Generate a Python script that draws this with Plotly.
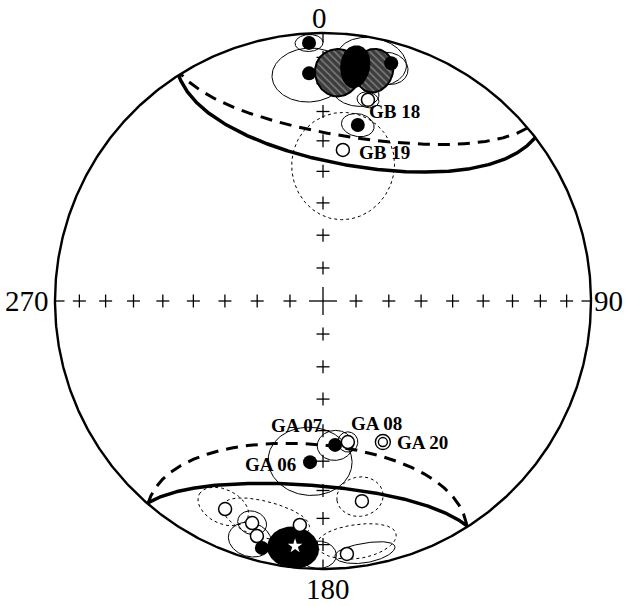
import numpy as np
import plotly.graph_objects as go

# ---- data (declination, inclination in degrees; negative inclination = upper hemisphere) ----
filled_dec = [356.9, 356.5, 16.0, 11.2, 175.2, 184.6, 193.9]
filled_inc = [4.0, 16.0, 8.5, 33.5, 45.2, 39.5, 5.7]

open_dec = [12.6, 7.5, 170.0, 169.0, 205.2, 197.7, 195.7, 185.9, 174.6]
open_inc = [-24.1, -42.6, -45.6, -24.9, -15.3, -14.1, -9.8, -17.1, -5.8]

double_dec = [157.0]
double_inc = [-42.3]

mean_dec = [186.5]
mean_inc = [8.8]

# confidence ovals: dec, inc, tangential semi-angle, radial semi-angle
oval_solid_dec = [356.9, 356.5, 15.8, 11.5, 9.0, 12.6, 11.2, 175.2, 184.6, 170.0, 197.0, 197.7, 181.1, 170.5]
oval_solid_inc = [4.0, 16.3, 10.6, 9.5, 22.1, 24.1, 33.5, 45.0, 39.5, 45.6, 7.5, 14.1, 5.8, 5.2]
oval_solid_at = [3.1, 9.0, 4.5, 8.1, 5.8, 2.8, 4.4, 5.0, 11.5, 2.8, 5.0, 3.5, 4.1, 6.8]
oval_solid_ar = [3.5, 10.2, 6.2, 9.5, 5.1, 2.8, 3.9, 4.9, 11.4, 3.3, 6.8, 4.5, 5.6, 4.0]

oval_dot_dec = [8.4, 169.3, 205.9, 172.0, 194.8]
oval_dot_inc = [47.3, 26.5, 15.7, 10.1, 16.6]
oval_dot_at = [14.5, 6.0, 6.5, 9.3, 10.9]
oval_dot_ar = [17.5, 7.0, 6.45, 6.7, 6.8]

hatch_dec = [3.7, 12.45]
hatch_inc = [15.5, 12.8]
hatch_at = [5.5, 4.5]
hatch_ar = [9.0, 8.5]

core_dec = [7.8, 186.9]
core_inc = [12.6, 7.9]
core_at = [3.3, 5.7]
core_ar = [8.0, 8.0]

# small circles: centre dec, centre inc, radius
arc_solid_dec = [9.9, 184.15]
arc_solid_inc = [4.6, -5.5]
arc_solid_rad = [42.7, 37.2]
arc_dash_dec = [8.85, 184.15]
arc_dash_inc = [-3.0, 8.1]
arc_dash_rad = [41.0, 37.4]

label_text = ["GB 18", "GB 19", "GA 07", "GA 08", "GA 20", "GA 06"]
label_dec = [20.6, 22.7, 191.8, 156.3, 144.9, 197.7]
label_inc = [25.6, 39.9, 50.9, 48.5, 35.9, 36.3]

cardinal_text = ["0", "90", "180", "270"]
cardinal_dec = [0, 90, 180, 270]
grid_inc = [80, 70, 60, 50, 40, 30, 20, 10]


def proj(dec, inc):
    dec = np.radians(np.asarray(dec, float))
    inc = np.abs(np.asarray(inc, float))
    rho = np.sqrt(2) * np.sin(np.radians(90 - inc) / 2)
    return rho * np.sin(dec), rho * np.cos(dec)


def unit(dec, inc):
    D, I = np.radians(dec), np.radians(abs(inc))
    return np.array([np.cos(I) * np.cos(D), np.cos(I) * np.sin(D), np.sin(I)])


def vec_to_net(p):
    d = np.degrees(np.arctan2(p[1], p[0]))
    i = np.degrees(np.arcsin(np.clip(p[2], 0, 1)))  # parts above the horizon are pinned to the primitive
    return proj(d, i)


def oval(dec, inc, at, ar, n=180):
    c = unit(dec, inc)
    z = np.array([0, 0, 1.0])
    u = z - c * np.dot(z, c)
    u /= np.linalg.norm(u)          # towards steeper inclination
    v = np.cross(u, c)
    v /= np.linalg.norm(v)          # along declination
    t = np.linspace(0, 2 * np.pi, n)
    a = np.radians(ar) * np.sin(t)
    b = np.radians(at) * np.cos(t)
    r = np.hypot(a, b)
    phi = np.arctan2(b, a)
    p = (np.cos(r) * c[:, None]
         + np.sin(r) * (np.cos(phi) * u[:, None] + np.sin(phi) * v[:, None]))
    return vec_to_net(p)


def small_circle(dec, inc, a, n=2001):
    D, I, A = np.radians([dec, inc, a])
    c = np.array([np.cos(I) * np.cos(D), np.cos(I) * np.sin(D), np.sin(I)])
    z = np.array([0, 0, 1.0])
    u = z - c * np.dot(z, c)
    u /= np.linalg.norm(u)
    v = np.cross(c, u)
    t = np.linspace(-np.pi, np.pi, n)
    p = np.cos(A) * c[:, None] + np.sin(A) * (np.cos(t) * u[:, None] + np.sin(t) * v[:, None])
    p = p[:, p[2] >= 0]
    return vec_to_net(p)


fig = go.Figure()
PX = 1 / 268.0  # one pixel in net units

# primitive
px_, py_ = proj(np.linspace(0, 360, 721), np.zeros(721))
fig.add_trace(go.Scatter(x=px_, y=py_, mode="lines", line=dict(color="black", width=2.4), hoverinfo="skip"))

# grid crosses
cx, cy = [], []
for d in cardinal_dec:
    xs, ys = proj([d] * len(grid_inc), grid_inc)
    for x0, y0 in zip(xs, ys):
        cx += [x0 - 6.5 * PX, x0 + 6.5 * PX, None, x0, x0, None]
        cy += [y0, y0, None, y0 - 6.5 * PX, y0 + 6.5 * PX, None]
# centre cross
cx += [-14 * PX, 14 * PX, None, 0, 0, None]
cy += [0, 0, None, -14 * PX, 14 * PX, None]
# edge ticks
for d in cardinal_dec:
    x1, y1 = proj([d], [0])
    x2, y2 = proj([d], [4])
    cx += [x1[0], x2[0], None]
    cy += [y1[0], y2[0], None]
fig.add_trace(go.Scatter(x=cx, y=cy, mode="lines", line=dict(color="black", width=1.3), hoverinfo="skip"))

# small-circle arcs
for d, i, a in zip(arc_dash_dec, arc_dash_inc, arc_dash_rad):
    x, y = small_circle(d, i, a)
    fig.add_trace(go.Scatter(x=x, y=y, mode="lines", line=dict(color="black", width=3, dash="12px,8px"), hoverinfo="skip"))
for d, i, a in zip(arc_solid_dec, arc_solid_inc, arc_solid_rad):
    x, y = small_circle(d, i, a)
    fig.add_trace(go.Scatter(x=x, y=y, mode="lines", line=dict(color="black", width=3.5), hoverinfo="skip"))

# dotted ovals
for d, i, a, b in zip(oval_dot_dec, oval_dot_inc, oval_dot_at, oval_dot_ar):
    x, y = oval(d, i, a, b)
    fig.add_trace(go.Scatter(x=x, y=y, mode="lines", line=dict(color="black", width=1, dash="dot"), hoverinfo="skip"))

# solid ovals
for d, i, a, b in zip(oval_solid_dec, oval_solid_inc, oval_solid_at, oval_solid_ar):
    x, y = oval(d, i, a, b)
    fig.add_trace(go.Scatter(x=x, y=y, mode="lines", line=dict(color="black", width=1), hoverinfo="skip"))

# hatched ovals
for d, i, a, b in zip(hatch_dec, hatch_inc, hatch_at, hatch_ar):
    x, y = oval(d, i, a, b)
    fig.add_trace(go.Scatter(x=x, y=y, mode="lines", fill="toself", line=dict(color="black", width=2),
                             fillpattern=dict(shape="\\", bgcolor="#3c3c3c", fgcolor="#bdbdbd", size=5, solidity=0.3),
                             hoverinfo="skip"))
# black cores
for d, i, a, b in zip(core_dec, core_inc, core_at, core_ar):
    x, y = oval(d, i, a, b)
    fig.add_trace(go.Scatter(x=x, y=y, mode="lines", fill="toself", fillcolor="black",
                             line=dict(color="black", width=2), hoverinfo="skip"))

# site means
x, y = proj(filled_dec, filled_inc)
fig.add_trace(go.Scatter(x=x, y=y, mode="markers", marker=dict(size=14, color="black", line=dict(width=0)), hoverinfo="skip"))
x, y = proj(open_dec, open_inc)
fig.add_trace(go.Scatter(x=x, y=y, mode="markers", marker=dict(size=13, color="white", line=dict(width=1.5, color="black")), hoverinfo="skip"))
x, y = proj(double_dec, double_inc)
fig.add_trace(go.Scatter(x=x, y=y, mode="markers", marker=dict(size=15, color="white", line=dict(width=1.4, color="black")), hoverinfo="skip"))
fig.add_trace(go.Scatter(x=x, y=y, mode="markers", marker=dict(size=9, color="white", line=dict(width=1.4, color="black")), hoverinfo="skip"))
x, y = proj(mean_dec, mean_inc)
fig.add_trace(go.Scatter(x=x, y=y, mode="markers", marker=dict(symbol="star", size=11, color="white", line=dict(width=0)), hoverinfo="skip"))

annotations = []
lx, ly = proj(label_dec, label_inc)
for t, x0, y0 in zip(label_text, lx, ly):
    annotations.append(dict(x=x0, y=y0, text=t, showarrow=False, xanchor="center", yanchor="middle",
                            font=dict(family="Liberation Serif", size=19, color="black", weight="bold")))
kx, ky = proj(cardinal_dec, [0, 0, 0, 0])
anchors = [("center", "bottom", -4, -2), ("left", "middle", 2, 0), ("center", "top", 5, -3), ("right", "middle", -5, 0)]
for t, x0, y0, (xa, ya, xs, ys) in zip(cardinal_text, kx, ky, anchors):
    annotations.append(dict(x=x0, y=y0, text=t, showarrow=False, xanchor=xa, yanchor=ya, xshift=xs, yshift=ys,
                            borderpad=0, font=dict(family="Liberation Serif", size=29, color="black")))

fig.update_layout(
    width=626, height=606, margin=dict(l=0, r=0, t=0, b=0),
    paper_bgcolor="white", plot_bgcolor="white", showlegend=False,
    xaxis=dict(range=[-323 / 268, 303 / 268], visible=False, fixedrange=True),
    yaxis=dict(range=[(301 - 606) / 268, 301 / 268], visible=False, fixedrange=True),
    annotations=annotations,
)
fig.write_html("out.html", config={"displayModeBar": False},
               post_script="document.body.style.margin='0';document.body.style.overflow='hidden';")
